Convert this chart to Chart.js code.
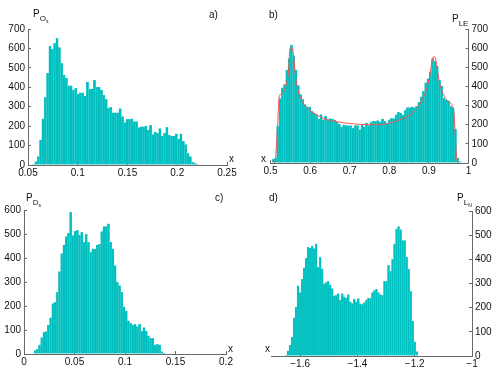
<!DOCTYPE html>
<html>
<head>
<meta charset="utf-8">
<script src="https://cdn.jsdelivr.net/npm/chart.js@4.4.1/dist/chart.umd.min.js"></script>
<style>
  body { margin: 0; background: #fff; }
  #wrap { position: relative; width: 496px; height: 391px; overflow: hidden; }
  canvas { position: absolute; left: 0; top: 0; }
  .lab { position: absolute; font-family: "Liberation Sans", Arial, sans-serif; font-size: 10px; color: #111; line-height: 10px; white-space: nowrap; }
  .lab sub { font-size: 8px; vertical-align: -4px; line-height: 0; }
  .lab sub sub { font-size: 5px; vertical-align: -2px; }
</style>
</head>
<body>
<div id="wrap">
  <canvas id="ca" width="496" height="391"></canvas>
  <canvas id="cb" width="496" height="391"></canvas>
  <canvas id="cc" width="496" height="391"></canvas>
  <canvas id="cd" width="496" height="391"></canvas>

  <div class="lab" style="left:33px;top:9px">P<sub>O<sub>s</sub></sub></div>
  <div class="lab" style="left:209px;top:10px">a)</div>
  <div class="lab" style="left:229px;top:154px">x</div>

  <div class="lab" style="left:269px;top:10px">b)</div>
  <div class="lab" style="left:452px;top:14px">P<sub>LE</sub></div>
  <div class="lab" style="left:261px;top:154px">x</div>

  <div class="lab" style="left:26px;top:193px">P<sub>D<sub>s</sub></sub></div>
  <div class="lab" style="left:215px;top:193px">c)</div>
  <div class="lab" style="left:228px;top:344px">x</div>

  <div class="lab" style="left:269px;top:193px">d)</div>
  <div class="lab" style="left:457px;top:193px">P<sub>L<sub>N</sub></sub></div>
  <div class="lab" style="left:265px;top:344px">x</div>
</div>
<script>
// histogram counts (bin left edge + width, then counts)
var aStart = 0.0545, aWidth = 0.00235;
var aCounts = [3,17,43,129,238,348,472,612,595,626,652,605,523,463,446,408,408,386,394,365,
  372,372,355,427,389,391,436,400,400,386,360,338,293,297,269,269,269,290,249,218,
  235,235,238,223,223,192,197,197,200,180,204,156,170,163,187,149,163,194,154,149,
  149,160,134,160,122,105,60,43,15,10,3];
var aXTicks = [0.05, 0.1, 0.15, 0.2, 0.25];
var aXLabels = ['0.05', '0.1', '0.15', '0.2', '0.25'];

var bStart = 0.504, bWidth = 0.00575;
var bCounts = [19,25,191,337,393,410,486,546,616,560,486,405,358,332,305,293,293,270,261,253,
  230,253,226,244,226,232,230,223,212,204,188,200,195,195,195,182,195,195,174,200,
  188,209,195,212,218,218,221,214,230,218,204,226,233,232,251,265,261,251,275,289,
  289,293,289,296,318,346,375,419,440,475,546,533,507,432,402,339,328,325,296,288,
  177,25,7];
var bFitX = [0.510,0.513,0.518,0.522,0.528,0.535,0.541,0.546,0.549,0.552,0.555,0.558,0.563,0.570,0.579,
  0.587,0.596,0.613,0.638,0.663,0.688,0.713,0.746,0.790,0.825,0.850,0.865,0.881,0.894,0.902,
  0.908,0.912,0.916,0.921,0.928,0.937,0.948,0.959,0.964,0.968,0.971,0.974];
var bFitY = [0,30,200,345,362,380,420,490,598,603,600,568,454,375,323,
  300,282,256,230,218,209,204,200,204,226,247,274,323,384,454,
  533,556,551,489,410,358,323,300,244,86,10,0];
var bXTicks = [0.5, 0.6, 0.7, 0.8, 0.9, 1];
var bXLabels = ['0.5', '0.6', '0.7', '0.8', '0.9', '1'];

var cStart = 0.0099, cWidth = 0.0022;
var cCounts = [14,19,38,68,90,93,121,151,210,215,257,343,418,454,489,503,590,493,512,515,
  496,507,465,499,465,424,438,436,454,457,510,531,531,542,465,438,368,299,285,257,
  197,179,138,128,121,124,114,124,96,110,96,76,65,65,38,40,38,10,4];
var cXTicks = [0, 0.05, 0.1, 0.15, 0.2];
var cXLabels = ['0', '0.05', '0.1', '0.15', '0.2'];

var dStart = -1.653, dWidth = 0.00702;
var dCounts = [4,21,45,78,158,202,290,262,317,365,405,450,446,455,444,464,368,409,361,299,
  304,309,295,279,249,251,258,231,258,245,240,254,224,217,235,224,238,216,213,221,
  231,240,238,262,271,276,262,254,251,309,309,375,350,400,464,526,536,523,478,478,
  409,359,268,144,59,18];
var dXTicks = [-1.6, -1.4, -1.2, -1];
var dXLabels = ['\u22121.6', '\u22121.4', '\u22121.2', '\u22121'];

var W = 496, H = 391;
var axisCol = '#6a6a6a';
var barCol = 'rgb(0,191,191)';
var fontSpec = { family: '"Liberation Sans", Arial, sans-serif', size: 10 };

function bins(start, width, counts) {
  return counts.map(function (c, i) { return { x: start + (i + 0.5) * width, y: c }; });
}

function makePanel(id, p) {
  var YW = 30, XH = 16;
  var pad = {
    left: p.yPos === 'left' ? p.L - YW : p.L,
    right: p.yPos === 'right' ? W - p.R - YW : W - p.R,
    top: p.T,
    bottom: H - p.B - XH
  };
  var datasets = [];
  if (p.fit) {
    datasets.push({
      type: 'line',
      data: p.fit,
      borderColor: 'rgb(255,80,80)',
      borderWidth: 1,
      pointRadius: 0,
      cubicInterpolationMode: 'monotone',
      order: 0
    });
  }
  datasets.push({
    type: 'bar',
    data: p.bars,
    backgroundColor: barCol,
    borderColor: 'rgb(70,210,210)',
    borderWidth: 0.4,
    barThickness: 'flex',
    barPercentage: 1,
    categoryPercentage: 1,
    order: 1
  });
  new Chart(document.getElementById(id), {
    type: 'bar',
    data: { datasets: datasets },
    options: {
      responsive: false,
      animation: false,
      layout: { padding: pad },
      plugins: { legend: { display: false }, tooltip: { enabled: false } },
      scales: {
        x: {
          type: 'linear',
          offset: false,
          min: p.xMin, max: p.xMax,
          afterBuildTicks: function (s) { s.ticks = p.xTicks.map(function (v) { return { value: v }; }); },
          afterFit: function (s) { s.height = XH; },
          ticks: { callback: function (v, i) { return p.xLabels[i]; }, font: fontSpec, color: '#111', padding: 5, maxRotation: 0, autoSkip: false },
          grid: { offset: false, drawOnChartArea: false, drawTicks: true, tickLength: -3, color: axisCol },
          border: { color: axisCol, width: 1 }
        },
        y: {
          position: p.yPos,
          min: 0, max: p.yMax,
          ticks: { stepSize: 100, font: fontSpec, color: '#111', padding: 6 },
          afterFit: function (s) { s.width = YW; },
          grid: { drawOnChartArea: false, drawTicks: true, tickLength: -3, color: axisCol },
          border: { color: axisCol, width: 1 }
        }
      }
    }
  });
}

makePanel('ca', { L: 28, R: 227, T: 29, B: 165, yPos: 'left', xMin: 0.05, xMax: 0.25, yMax: 700,
  xTicks: aXTicks, xLabels: aXLabels, bars: bins(aStart, aWidth, aCounts) });

makePanel('cb', { L: 270.5, R: 468.5, T: 29, B: 163, yPos: 'right', xMin: 0.5, xMax: 1, yMax: 700,
  xTicks: bXTicks, xLabels: bXLabels, bars: bins(bStart, bWidth, bCounts),
  fit: bFitX.map(function (x, i) { return { x: x, y: bFitY[i] }; }) });

makePanel('cc', { L: 24, R: 226, T: 210, B: 354, yPos: 'left', xMin: 0, xMax: 0.2, yMax: 600,
  xTicks: cXTicks, xLabels: cXLabels, bars: bins(cStart, cWidth, cCounts) });

makePanel('cd', { L: 271.5, R: 472, T: 211, B: 356, yPos: 'right', xMin: -1.7, xMax: -1, yMax: 600,
  xTicks: dXTicks, xLabels: dXLabels, bars: bins(dStart, dWidth, dCounts) });
</script>
</body>
</html>
